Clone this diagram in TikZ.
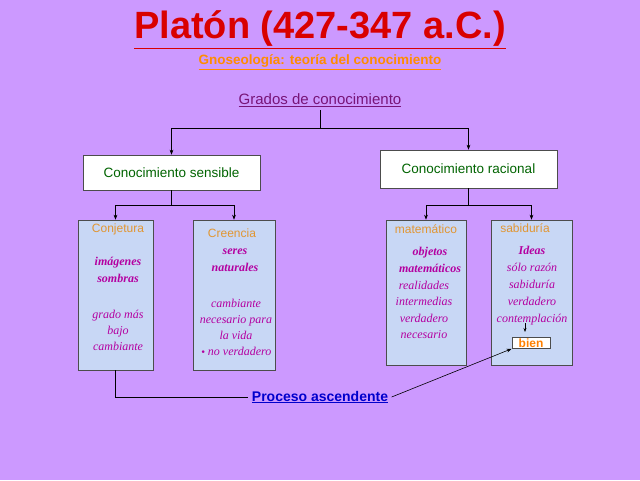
\documentclass[tikz,border=0pt]{standalone}
\usepackage{fontspec}
\setmainfont{Liberation Serif}
\newfontfamily\hsans{Liberation Sans}
\newfontfamily\dsans{DejaVu Sans}
\usetikzlibrary{arrows.meta,calc}
\definecolor{bg}{RGB}{204,153,255}
\definecolor{boxfill}{RGB}{200,215,245}
\definecolor{mag}{RGB}{180,0,160}
\definecolor{gold}{RGB}{225,150,50}
\definecolor{tgreen}{RGB}{0,100,0}
\definecolor{pur}{RGB}{120,20,120}
\begin{document}
\begin{tikzpicture}[x=1pt,y=-1pt,
  conn/.style={draw=black,line width=0.6pt},
  arr/.style={conn,-{Stealth[length=5pt]}},
  hbox/.style={draw=black!70,fill=white,line width=0.6pt,inner sep=0pt},
  cbox/.style={draw=black!70,fill=boxfill,line width=0.6pt},
  head/.style={text=gold,font=\hsans\fontsize{12}{13}\selectfont},
  body/.style={text=mag,font=\itshape\fontsize{12}{16}\selectfont,align=center}]
\useasboundingbox[fill=bg] (0,0) rectangle (640,480);
\node (title) [text=red!85!black,font=\hsans\bfseries\fontsize{38}{40}\selectfont] at (320,30) {\underline{Platón (427-347 a.C.)}};
\node (sub) [text=orange!90!yellow,font=\hsans\bfseries\fontsize{13.5}{14}\selectfont] at (320,62) {\underline{Gnoseología: teoría del conocimiento}};
\node (grados) [text=pur,font=\hsans\fontsize{15}{16}\selectfont] at (320,100) {\underline{Grados de conocimiento}};
\node (sens) [hbox,minimum width=177,minimum height=35,text=tgreen,font=\hsans\fontsize{13.5}{14}\selectfont] at (171.5,172.5) {Conocimiento sensible};
\node (rac) [hbox,minimum width=177,minimum height=38,text=tgreen,font=\hsans\fontsize{13.5}{14}\selectfont] at (468.5,169) {Conocimiento racional};
\coordinate (g1) at (320,128);
\draw[conn] (grados.south) -- (g1);
\draw[arr] (g1) -| (sens.north);
\draw[arr] (g1) -| (rac.north);
\node (conj) [cbox,minimum width=75,minimum height=150] at (115.5,295) {};
\node (cree) [cbox,minimum width=82,minimum height=150] at (234,295) {};
\node (mate) [cbox,minimum width=80,minimum height=145] at (426,292.5) {};
\node (sabi) [cbox,minimum width=81,minimum height=145] at (531.5,292.5) {};
\coordinate (s1) at (171.5,205);
\draw[conn] (sens.south) -- (s1);
\draw[arr] (s1) -| (conj.north);
\draw[arr] (s1) -| (cree.north);
\coordinate (r1) at (468.5,205);
\draw[conn] (rac.south) -- (r1);
\draw[arr] (r1) -| (mate.north);
\draw[arr] (r1) -| (sabi.north);
\node[head] at (118,229) {Conjetura};
\node[head] at (232,233) {Creencia};
\node[head] at (426,229) {matemático};
\node[head] at (525,228) {sabiduría};
\node[body,font=\bfseries\itshape\fontsize{12}{17}\selectfont] at (118,270) {imágenes\\sombras};
\node[body] at (118,330) {grado más\\bajo\\cambiante};
\node[body,font=\bfseries\itshape\fontsize{12}{17}\selectfont] at (235,260) {seres\\naturales};
\node[body] at (236,327) {cambiante\\necesario para\\la vida\\{\dsans\small•}\,no verdadero};
\node[body,font=\bfseries\itshape\fontsize{12}{17}\selectfont] at (430,260) {objetos\\matemáticos};
\node[body,font=\itshape\fontsize{12}{16.5}\selectfont] at (424,310) {realidades\\intermedias\\verdadero\\necesario};
\node[body,font=\itshape\fontsize{12}{17}\selectfont] at (532,286) {\textbf{Ideas}\\sólo razón\\sabiduría\\verdadero\\contemplación};
\node (bien) [draw=black!70,fill=white,line width=0.8pt,text=orange,font=\hsans\bfseries\fontsize{12}{12}\selectfont,inner sep=1pt,minimum width=38] at (531,343) {bien};
\draw[-{Stealth[length=4pt]},line width=0.6pt] (525,323) -- (525,332);
\node (proc) [text=blue!80!black,font=\hsans\bfseries\fontsize{14}{15}\selectfont] at (320,397) {\underline{Proceso ascendente}};
\draw[conn] (conj.south) |- (proc.west);
\draw[arr] (proc.east) -- (bien.south west);
\end{tikzpicture}
\end{document}
